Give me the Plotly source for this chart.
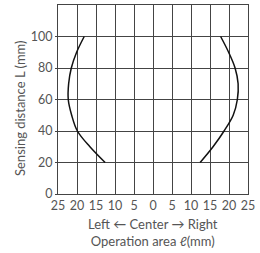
import plotly.graph_objects as go

dist = [20, 30, 40, 50, 60, 70, 80, 90, 100]
left_x = [-12.6, -16.6, -19.9, -21.4, -22.3, -22.2, -21.5, -20.1, -18.1]
right_x = [12.4, 15.8, 18.7, 21.1, 22.2, 22.4, 21.6, 19.9, 17.8]

x_ticks = [-25, -20, -15, -10, -5, 0, 5, 10, 15, 20, 25]
x_labels = ["25", "20", "15", "10", "5", "0", "5", "10", "15", "20", "25"]
y_ticks = [0, 20, 40, 60, 80, 100]

fig = go.Figure()
for xs in (left_x, right_x):
    fig.add_trace(go.Scatter(x=xs, y=dist, mode="lines",
                             line=dict(color="#111", width=1.5, shape="spline"),
                             showlegend=False, hoverinfo="skip"))

font = dict(family="Lato, sans-serif", size=12.5, color="#555")
fig.update_layout(
    width=260, height=253,
    margin=dict(l=58, r=12, t=5, b=59),
    paper_bgcolor="white", plot_bgcolor="white",
    font=font,
    xaxis=dict(range=[-25, 25], tickvals=x_ticks, ticktext=x_labels,
               showgrid=True, gridcolor="#444", gridwidth=1,
               showline=True, linecolor="#444", linewidth=1, mirror=True,
               ticks="", zeroline=False, tickfont=font, automargin=False),
    yaxis=dict(range=[0, 120], tickvals=y_ticks,
               showgrid=True, gridcolor="#444", gridwidth=1,
               showline=True, linecolor="#444", linewidth=1, mirror=True,
               ticks="outside", ticklen=2, tickcolor="#444",
               zeroline=False, tickfont=font, automargin=False),
    annotations=[
        dict(text="Left ← Center → Right<br>Operation area ℓ(mm)",
             xref="paper", yref="paper", x=0.5, y=-0.205,
             xanchor="center", yanchor="middle", showarrow=False,
             font=dict(family="Lato, sans-serif", size=13, color="#555")),
        dict(text="Sensing distance L (mm)", textangle=-90,
             xref="paper", yref="paper", x=-0.2, y=0.455,
             xanchor="center", yanchor="middle", showarrow=False,
             font=dict(family="Lato, sans-serif", size=13, color="#555")),
    ],
)
fig.write_html("out.html", config={"displayModeBar": False},
               post_script="document.body.style.margin='0';")
